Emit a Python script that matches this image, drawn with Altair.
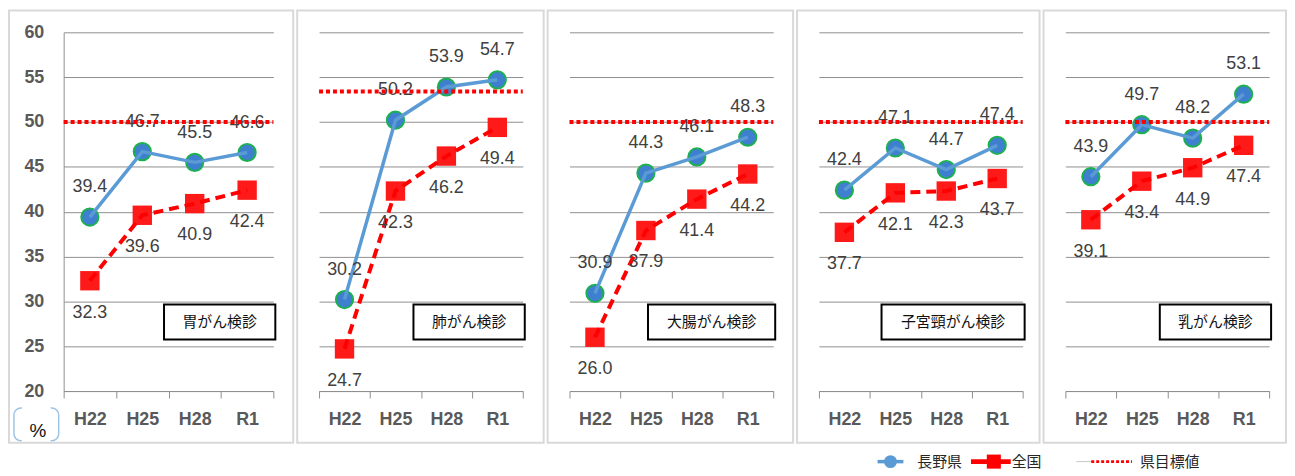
import altair as alt
import pandas as pd

categories = ["H22", "H25", "H28", "R1"]
panel_titles = ["胃がん検診", "肺がん検診", "大腸がん検診", "子宮頸がん検診", "乳がん検診"]
series_names = ["長野県", "全国", "県目標値"]

nagano_stomach = [39.4, 46.7, 45.5, 46.6]
national_stomach = [32.3, 39.6, 40.9, 42.4]
nagano_lung = [30.2, 50.2, 53.9, 54.7]
national_lung = [24.7, 42.3, 46.2, 49.4]
nagano_colorectal = [30.9, 44.3, 46.1, 48.3]
national_colorectal = [26.0, 37.9, 41.4, 44.2]
nagano_cervical = [42.4, 47.1, 44.7, 47.4]
national_cervical = [37.7, 42.1, 42.3, 43.7]
nagano_breast = [43.9, 49.7, 48.2, 53.1]
national_breast = [39.1, 43.4, 44.9, 47.4]
targets = [50, 53.4, 50, 50, 50]
y_ticks = [20, 25, 30, 35, 40, 45, 50, 55, 60]
unit_label = "%"

nagano_all = [nagano_stomach, nagano_lung, nagano_colorectal, nagano_cervical, nagano_breast]
national_all = [national_stomach, national_lung, national_colorectal, national_cervical, national_breast]

BLUE_LINE = "#5B9BD5"
BLUE_FILL = "#3F7FCF"
GREEN = "#1DB04F"
RED = "#FF0000"
GRID = "#8f8f8f"
FRAME = "#d9d9d9"
LABEL_FONT = "Liberation Sans"
JP_FONT = "Noto Sans CJK JP"

H = 361
# layout of each panel: (left margin, plot width, right margin)
layout = [(55, 211, 20), (22, 205, 21), (22, 205, 20), (22, 205, 17), (22, 205, 17)]
ROW_WIDTH = sum(l + w + r for l, w, r in layout) + 4 * 2


def make_panel(idx):
    title = panel_titles[idx]
    nagano = nagano_all[idx]
    national = national_all[idx]
    target = targets[idx]
    first = idx == 0
    left, w, right = layout[idx]
    df = pd.DataFrame({
        "cat": categories * 2,
        "series": [series_names[0]] * 4 + [series_names[1]] * 4,
        "value": nagano + national,
    })
    tdf = pd.DataFrame({"value": [target], "series": [series_names[2]]})
    one = pd.DataFrame({"title": [title]})

    xaxis = alt.Axis(domain=True, domainColor=GRID, ticks=True, tickColor=GRID, tickSize=7,
                     tickBand="extent", labelFont=LABEL_FONT, labelFontSize=18,
                     labelFontWeight="bold", labelColor="#595959", labelPadding=13,
                     labelAngle=0, grid=False, title=None)
    if first:
        yaxis = alt.Axis(values=y_ticks, grid=True, gridColor=GRID, domain=True, domainColor=GRID,
                         ticks=False, labelFont=LABEL_FONT, labelFontSize=18, labelFontWeight="bold",
                         labelColor="#595959", labelPadding=20, title=None)
    else:
        yaxis = alt.Axis(values=y_ticks, grid=True, gridColor=GRID, domain=False, ticks=False,
                         labels=False, title=None)

    xenc = alt.X("cat:N", sort=categories,
                 scale=alt.Scale(type="band", domain=categories, paddingInner=0, paddingOuter=0),
                 axis=xaxis, bandPosition=0.5)
    yenc = alt.Y("value:Q", scale=alt.Scale(domain=[20, 60], nice=False, zero=False), axis=yaxis)

    base = alt.Chart(df).encode(x=xenc, y=yenc)
    nag = base.transform_filter(alt.datum.series == series_names[0])
    nat = base.transform_filter(alt.datum.series == series_names[1])

    frame = alt.Chart(one).mark_rect(fillOpacity=0, stroke=FRAME, strokeWidth=2).encode(
        x=alt.value(-left), x2=alt.value(w + right), y=alt.value(-22), y2=alt.value(H + 52))

    squares = nat.mark_square(size=380, color="#FF1A1A", opacity=1)
    circles = nag.mark_circle(size=300, color=BLUE_FILL, stroke=GREEN, strokeWidth=2, opacity=1)
    nag_line = nag.mark_line(color=BLUE_LINE, strokeWidth=3.5)
    nat_line = nat.mark_line(color=RED, strokeWidth=4, strokeDash=[10, 6])
    nag_text = nag.mark_text(dy=-30, fontSize=18, font=LABEL_FONT, color="#404040").encode(
        text=alt.Text("value:Q", format=".1f"))
    nat_text = nat.mark_text(dy=32, fontSize=18, font=LABEL_FONT, color="#404040").encode(
        text=alt.Text("value:Q", format=".1f"))

    bw = 16 * len(title) + 32
    box = alt.Chart(one).mark_rect(fill="white", stroke="black", strokeWidth=2).encode(
        x=alt.value(w - bw + 2), x2=alt.value(w + 2), y=alt.value(274), y2=alt.value(309))
    box_text = alt.Chart(one).mark_text(font=JP_FONT, fontSize=15, color="#111111",
                                        baseline="middle", align="center").encode(
        x=alt.value(w - bw / 2 + 2), y=alt.value(291.5), text="title:N")

    target_rule = alt.Chart(tdf).mark_rule(color=RED, strokeWidth=4, strokeDash=[4, 3]).encode(
        y=yenc, x=alt.value(0), x2=alt.value(w))

    layers = [frame, squares, circles, nag_line, nat_line, nag_text, nat_text, box, box_text,
              target_rule]
    if first:
        udf = pd.DataFrame({"u": [unit_label]})
        bracket = alt.Chart(udf).mark_rect(fillOpacity=0, stroke="#9DC3E6", strokeWidth=1.5,
                                           cornerRadius=7,
                                           strokeDash=[1, 29, 43, 29, 42]).encode(
            x=alt.value(-50), x2=alt.value(-5), y=alt.value(H + 17), y2=alt.value(H + 50))
        unit = alt.Chart(udf).mark_text(font=LABEL_FONT, fontSize=19, color="#111111",
                                        baseline="middle").encode(
            x=alt.value(-26), y=alt.value(H + 40), text="u:N")
        layers += [bracket, unit]
    return alt.layer(*layers).properties(width=w, height=H)


panels = [make_panel(i) for i in range(5)]
top = alt.hconcat(*panels, spacing=2)

# legend row: its origin lines up with the first panel's plot area
ORIGIN = layout[0][0] + 1
LEG_START = 875 - ORIGIN
LEG_WIDTH = ROW_WIDTH - ORIGIN
leg_df = pd.DataFrame({"name": series_names, "i": list(range(3))})
lx = alt.X("i:Q", scale=alt.Scale(domain=[-LEG_START / 100, (LEG_WIDTH - LEG_START) / 100],
                                  nice=False, zero=False), axis=None)
leg_base = alt.Chart(leg_df)


def only(name):
    return leg_base.transform_filter(alt.datum.name == name)


ly = alt.value(10)
leg_nag_line = only(series_names[0]).mark_rule(x2Offset=26, color=BLUE_LINE, strokeWidth=3.5).encode(
    x=lx, x2="i:Q", y=ly)
leg_nag_pt = only(series_names[0]).mark_circle(xOffset=13, size=170, color=BLUE_LINE, opacity=1).encode(
    x=lx, y=ly)
leg_nat_line = only(series_names[1]).mark_rule(xOffset=-6, x2Offset=34, color=RED, strokeWidth=5).encode(
    x=lx, x2="i:Q", y=ly)
leg_nat_pt = only(series_names[1]).mark_square(xOffset=17, size=200, color=RED, opacity=1).encode(
    x=lx, y=ly)
leg_tgt_grey = only(series_names[2]).mark_rule(x2Offset=16, color="#c8c8c8", strokeWidth=1).encode(
    x=lx, x2="i:Q", y=ly)
leg_tgt_line = only(series_names[2]).mark_rule(xOffset=15, x2Offset=56, color=RED, strokeWidth=3,
                                               strokeDash=[3, 2]).encode(x=lx, x2="i:Q", y=ly)
text_kw = dict(align="left", baseline="middle", fontSize=15, font=JP_FONT, color="#262626")
leg_t1 = only(series_names[0]).mark_text(dx=40, **text_kw).encode(x=lx, y=ly, text="name:N")
leg_t2 = only(series_names[1]).mark_text(dx=35, **text_kw).encode(x=lx, y=ly, text="name:N")
leg_t3 = only(series_names[2]).mark_text(dx=64, **text_kw).encode(x=lx, y=ly, text="name:N")
legend_chart = alt.layer(leg_nag_line, leg_nag_pt, leg_nat_line, leg_nat_pt, leg_tgt_grey,
                         leg_tgt_line, leg_t1, leg_t2, leg_t3).properties(width=LEG_WIDTH, height=20)

chart = alt.vconcat(top, legend_chart, spacing=8).properties(padding=0).configure(
    background="white", padding=0).configure_view(stroke=None)

chart.save("out.html", embed_options={"renderer": "svg", "actions": False})
